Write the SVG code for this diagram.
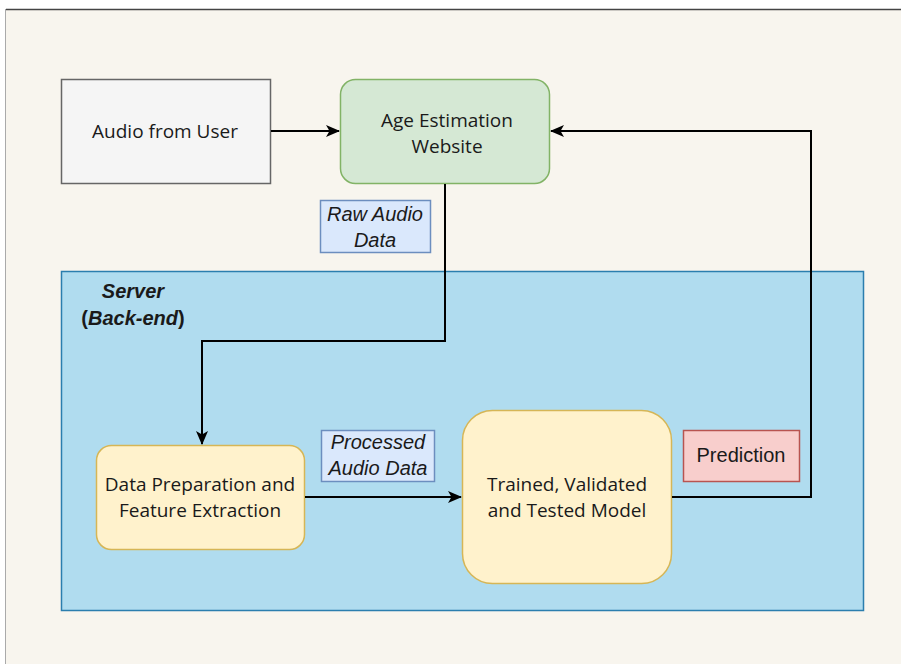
<svg xmlns="http://www.w3.org/2000/svg" width="901" height="664" viewBox="0 0 901 664">
<defs>
<marker id="arr" viewBox="0 0 14 12" refX="13" refY="6" markerWidth="14" markerHeight="12" markerUnits="userSpaceOnUse" orient="auto">
<path d="M0,0 L14,6 L0,12 L3.5,6 Z" fill="#000"/>
</marker>
</defs>
<style>
.lbl{font-family:"Open Sans","Noto Sans",sans-serif;font-size:19px;fill:#1a1a1a;text-anchor:middle}
.edge{font-family:"Liberation Sans",Arial,sans-serif;font-size:20px;font-style:italic;fill:#1a1a1a;text-anchor:middle}
.plain{font-family:"Liberation Sans",Arial,sans-serif;font-size:20px;fill:#1a1a1a;text-anchor:middle}
.conn{fill:none;stroke:#000;stroke-width:2}
</style>
<rect x="0" y="0" width="901" height="664" fill="#ffffff"/>
<rect x="6" y="10" width="895" height="654" fill="#f8f5ee"/>
<line x1="6" y1="9.5" x2="901" y2="9.5" stroke="#444" stroke-width="1.5"/>
<line x1="5.5" y1="9" x2="5.5" y2="664" stroke="#aaa" stroke-width="1"/>
<g id="server">
<rect x="61.5" y="271.5" width="802" height="339" fill="#b0dcef" stroke="#2b7eae" stroke-width="1.5"/>
<text x="133" y="298" font-family="Liberation Sans,Arial,sans-serif" font-size="20" font-weight="bold" font-style="italic" fill="#1a1a1a" text-anchor="middle">Server</text>
<text x="133" y="325" font-family="Liberation Sans,Arial,sans-serif" font-size="20" font-weight="bold" fill="#1a1a1a" text-anchor="middle">(<tspan font-style="italic">Back-end</tspan>)</text>
</g>
<g id="audio-from-user">
<rect x="61.5" y="79.5" width="209" height="104" fill="#f5f5f5" stroke="#666" stroke-width="1.5"/>
<text class="lbl" x="165" y="138">Audio from User</text>
</g>
<g id="website">
<rect x="340.5" y="79.5" width="209" height="104" rx="15" fill="#d5e8d4" stroke="#82b366" stroke-width="1.5"/>
<text class="lbl" x="447" y="127">Age Estimation</text>
<text class="lbl" x="447" y="153">Website</text>
</g>
<g id="data-prep">
<rect x="96.5" y="445.5" width="208" height="104" rx="15" fill="#fff2cc" stroke="#d6b656" stroke-width="1.5"/>
<text class="lbl" x="200" y="491">Data Preparation and</text>
<text class="lbl" x="200" y="517">Feature Extraction</text>
</g>
<g id="model">
<rect x="462.5" y="410.5" width="209" height="173" rx="30" fill="#fff2cc" stroke="#d6b656" stroke-width="1.5"/>
<text class="lbl" x="567" y="491">Trained, Validated</text>
<text class="lbl" x="567" y="517">and Tested Model</text>
</g>
<g id="connectors">
<line class="conn" x1="271" y1="131" x2="339" y2="131" marker-end="url(#arr)"/>
<polyline class="conn" points="445,184 445,341 202,341 202,444" marker-end="url(#arr)"/>
<line class="conn" x1="305" y1="497" x2="461" y2="497" marker-end="url(#arr)"/>
<polyline class="conn" points="672,497 811,497 811,131 551,131" marker-end="url(#arr)"/>
</g>
<g id="raw-audio-label">
<rect x="320.5" y="200.5" width="110" height="52" fill="#dae8fc" stroke="#6c8ebf" stroke-width="1.5"/>
<text class="edge" x="375" y="221">Raw Audio</text>
<text class="edge" x="375" y="247">Data</text>
</g>
<g id="processed-label">
<rect x="321.5" y="430.5" width="113" height="51" fill="#dae8fc" stroke="#6c8ebf" stroke-width="1.5"/>
<text class="edge" x="378" y="449">Processed</text>
<text class="edge" x="378" y="475">Audio Data</text>
</g>
<g id="prediction">
<rect x="683.5" y="430.5" width="116" height="51" fill="#f8cecc" stroke="#b85450" stroke-width="1.5"/>
<text class="plain" x="741" y="462">Prediction</text>
</g>
</svg>
